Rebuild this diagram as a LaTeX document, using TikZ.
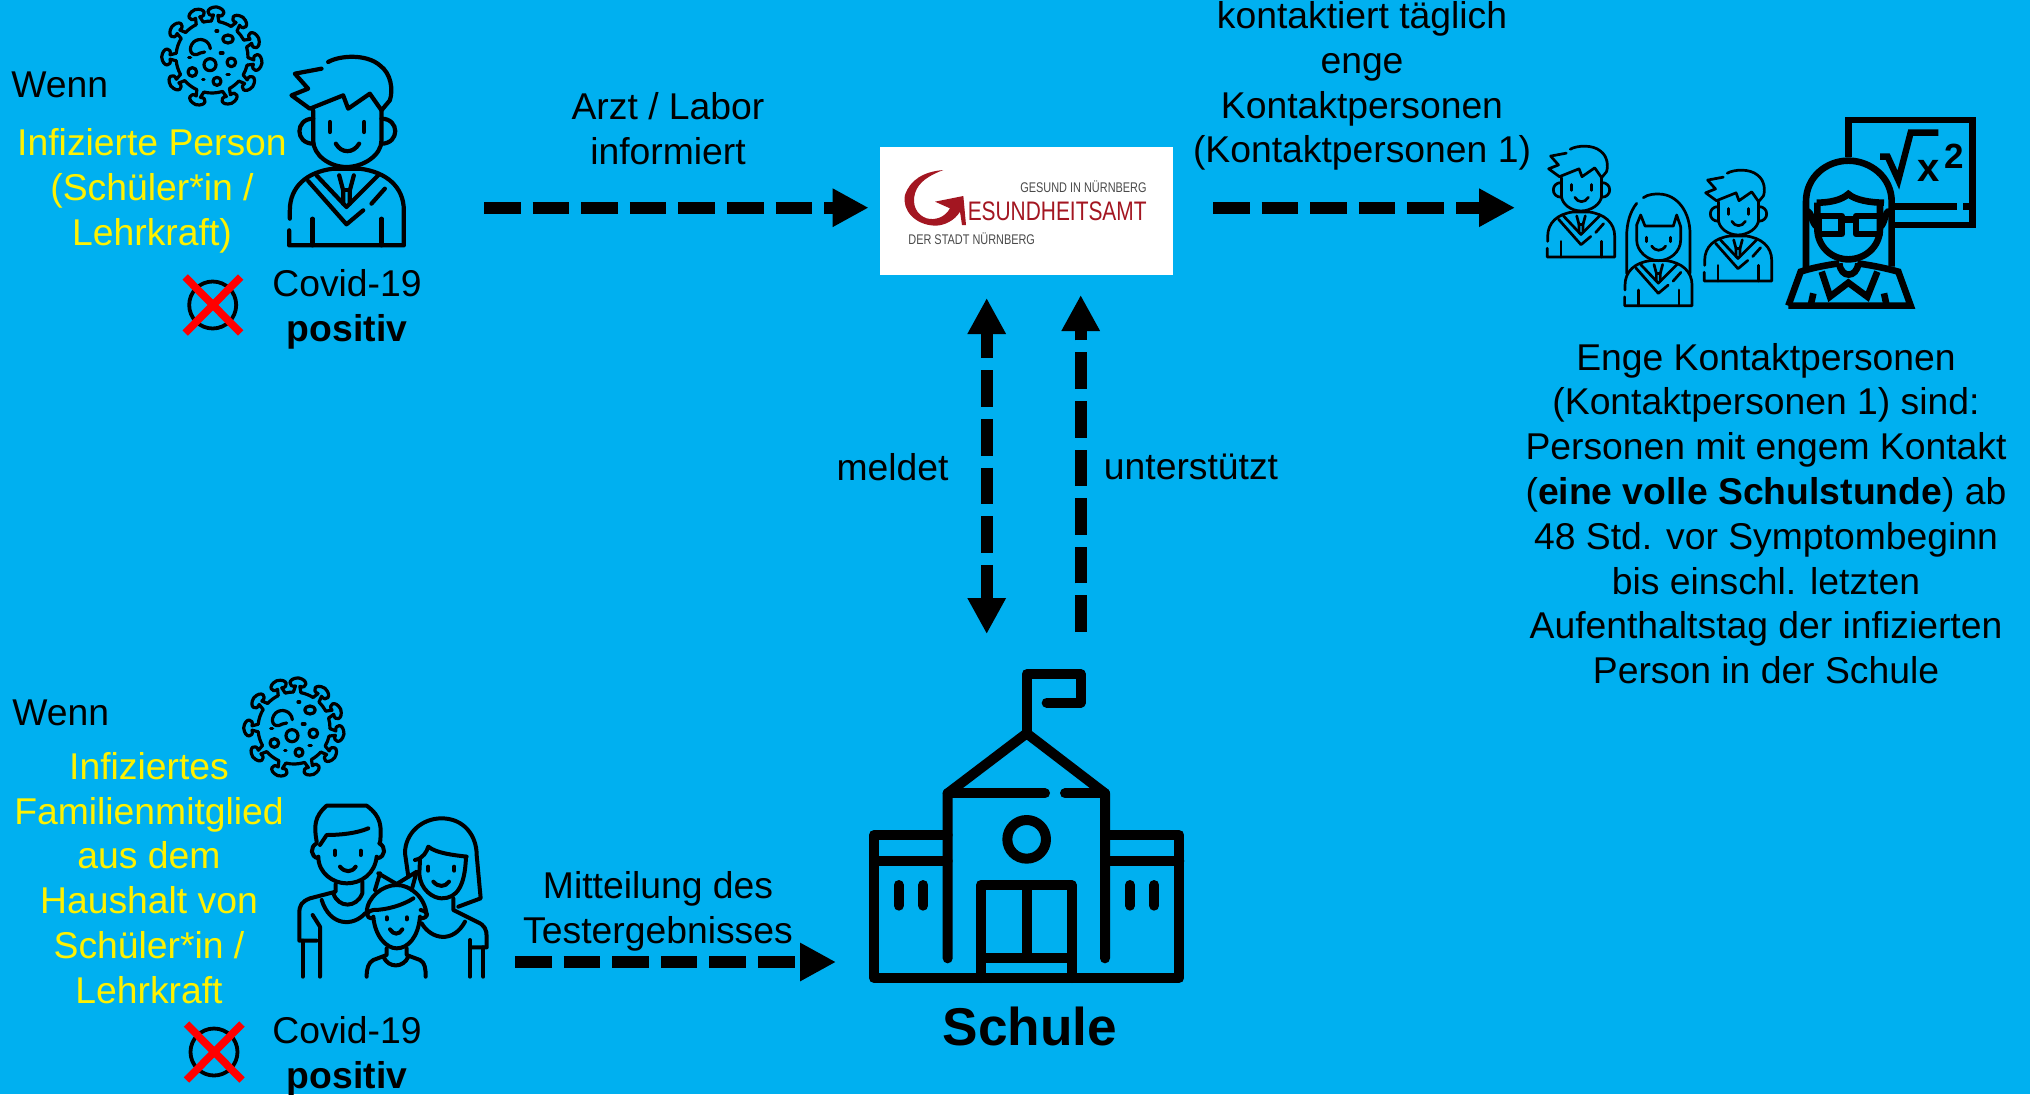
\documentclass[tikz,border=0pt]{standalone}
\usepackage{fontspec}
\setmainfont{Liberation Sans}
\newfontfamily\logofont[FakeStretch=0.78]{Liberation Sans}
\usetikzlibrary{arrows.meta}
\definecolor{bgblue}{HTML}{00B0F0}
\definecolor{logored}{HTML}{A31621}
\definecolor{logogray}{HTML}{4A4A4A}
\tikzset{
  label/.style={inner sep=0pt,align=center,font=\fontsize{18.65}{22.4}\selectfont,text=black},
  yellowlabel/.style={label,text=yellow},
  flow/.style={line width=6pt,dash pattern=on 18.3pt off 6pt,-{Triangle[length=18pt,width=18pt]}},
  icon/.style={line cap=round,line join=round,draw=black},
}
\newcommand{\virusicon}[2]{%
  \begin{scope}[shift={(#1,#2)},scale=1/3,icon,line width=1.6pt]
    \foreach \a/\b in {-143/-110,-110/-85,-85/-52,-52/-22,-22/7,7/36,36/67,67/109,109/145,145/180,180/217}{
      \draw ({\a+6}:108) arc[start angle={\a+6},end angle={\b-6},radius=108];
      \draw ({\b-6}:108) -- ({\b-3}:126) .. controls ({\b-13}:122) and ({\b-13}:151) .. ({\b}:151)
            .. controls ({\b+13}:151) and ({\b+13}:122) .. ({\b+3}:126) -- ({\b+6}:108);
    }
    \draw (-5,-25) .. controls (-8,-52) and (-38,-60) .. (-55,-45) .. controls (-75,-25) and (-62,5) .. (-35,-12) -- (-22,-15);
    \draw (48,-54) ellipse [x radius=16,y radius=12];
    \draw (-6,23) circle [radius=18];
    \draw (58,16) circle [radius=13];
    \draw (-59,45) circle [radius=13];
    \draw (15,73) circle [radius=12];
    \draw (12,-78)--(17,-78); \draw (25,-12)--(33,-12);
    \draw (-70,2)--(-64,2); \draw (-28,68)--(-24,68); \draw (45,53)--(52,53);
  \end{scope}}
\newcommand{\bodyshape}{%
  \draw (-170,-85)--(-170,-110) .. controls (-170,-180) and (-120,-225) .. (-40,-235) -- (40,-235)
        .. controls (120,-225) and (172,-180) .. (172,-110) -- (172,-5) -- (-172,-5) -- (-172,-50);
  \draw (-102,-85)--(-102,-5); \draw (105,-85)--(105,-5);
  \draw (-115,-198)--(0,-68)--(50,-110); \draw (75,-130)--(115,-175);
  \draw (-90,-215)--(0,-120)--(95,-215);
  \draw (-22,-215)--(-10,-170)--(-10,-130); \draw (22,-215)--(10,-170)--(10,-130); \draw (-10,-170)--(10,-170);
}
\newcommand{\studenticon}[4]{%
  \begin{scope}[shift={(#1,#2)},scale=#3/3,icon,line width=#4]
    \draw (-55,-555) .. controls (-20,-575) and (60,-580) .. (100,-545)
          .. controls (135,-520) and (140,-470) .. (130,-440) -- (105,-410) -- (70,-460) -- (5,-415)
          -- (-10,-455) -- (-110,-415) -- (-165,-455) -- (-115,-475) -- (-155,-520) -- (-75,-535);
    \draw (-100,-410)--(-100,-320) .. controls (-100,-275) and (-50,-240) .. (0,-240)
          .. controls (50,-240) and (105,-275) .. (105,-320) -- (105,-410);
    \draw (-100,-385) .. controls (-155,-385) and (-155,-310) .. (-100,-310);
    \draw (105,-385) .. controls (160,-385) and (160,-310) .. (105,-310);
    \draw (-50,-375)--(-50,-345); \draw (53,-375)--(53,-345);
    \draw (-32,-310) .. controls (-15,-280) and (20,-280) .. (38,-310);
    \bodyshape
  \end{scope}}
\newcommand{\crossmark}[2]{%
  \draw[line width=1.9pt] (#1,#2) circle [radius=23.5];
  \draw[red,line width=3.8pt] ({#1-27.5},{#2-28}) -- ({#1+28},{#2+28});
  \draw[red,line width=3.8pt] ({#1+28},{#2-28}) -- ({#1-27.5},{#2+28});}
\begin{document}
\begin{tikzpicture}[x=0.5pt,y=-0.5pt]
\fill[bgblue] (0,0) rectangle (2030,1094);
\useasboundingbox (0,0) rectangle (2030,1094);

% ---- upper left
\virusicon{212}{57}
\studenticon{346.5}{247}{1}{2.1pt}
\crossmark{212.7}{305}
\node[label,anchor=base west] (wenna) at (11,97) {Wenn};
\node[yellowlabel] (infa) at (152,191) {Infizierte Person\\(Schüler*in /\\Lehrkraft)};
\node[label] (cova) at (347,309) {Covid-19\\\textbf{positiv}};

% ---- lower left
\virusicon{294}{728}
\node[label,anchor=base west] (wennb) at (12,725) {Wenn};
\node[yellowlabel] (infb) at (149,878) {Infiziertes\\Familienmitglied\\aus dem\\Haushalt von\\Schüler*in /\\Lehrkraft};
\crossmark{214}{1052}
\node[label] (covb) at (347,1056) {Covid-19\\\textbf{positiv}};
\begin{scope}[shift={(170,660)},scale=1/3,icon,line width=2pt]
  % father
  \draw (440,545) .. controls (432,500) and (432,470) .. (470,437) -- (590,437) .. controls (635,470) and (635,500) .. (630,550);
  \draw (450,555)--(470,525) .. controls (510,525) and (560,520) .. (595,505);
  \draw (445,590) .. controls (445,640) and (490,670) .. (530,670) .. controls (575,670) and (615,640) .. (620,590);
  \draw (440,550) .. controls (420,560) and (420,590) .. (445,595);
  \draw (628,550) .. controls (648,560) and (648,590) .. (622,595);
  \draw (495,572)--(495,585); \draw (572,572)--(572,585);
  \draw (510,620) .. controls (525,638) and (545,638) .. (557,620);
  \draw (497,672)--(497,695)--(420,715) .. controls (395,725) and (388,735) .. (388,760) -- (388,842)--(440,842);
  \draw (455,720) .. controls (480,800) and (550,800) .. (585,760);
  \draw (490,700) .. controls (505,745) and (560,745) .. (577,700) -- (577,665);
  \draw (428,765)--(450,800)--(450,950);
  \draw (398,842)--(398,950);
  % mother
  \draw (715,650) -- (705,580) .. controls (705,520) and (755,475) .. (815,475) .. controls (880,475) and (920,525) .. (920,585) -- (932,715) -- (865,740);
  \draw (735,600) .. controls (760,595) and (770,575) .. (775,560) .. controls (800,580) and (850,585) .. (890,590);
  \draw (750,600)--(748,640) .. controls (750,690) and (790,715) .. (815,715) .. controls (860,715) and (885,680) .. (888,590);
  \draw (775,620)--(775,632); \draw (853,620)--(853,632);
  \draw (790,665) .. controls (805,682) and (825,682) .. (837,665);
  \draw (850,715)--(850,750)--(920,785) .. controls (945,795) and (950,810) .. (950,830) -- (950,862)--(905,862);
  \draw (755,790) .. controls (785,840) and (850,850) .. (885,785);
  \draw (900,840)--(900,950); \draw (940,862)--(940,950);
  % child
  \draw (630,640)--(615,690); \draw (625,640)--(680,672)--(740,635)--(725,690);
  \draw (590,760) .. controls (590,710) and (640,675) .. (680,675) .. controls (720,675) and (765,710) .. (770,765);
  \draw (610,750) .. controls (650,750) and (700,735) .. (730,715);
  \draw (610,770) .. controls (615,830) and (650,865) .. (680,865) .. controls (715,865) and (745,830) .. (750,770);
  \draw (610,750) .. controls (585,755) and (585,775) .. (610,775);
  \draw (752,750) .. controls (778,755) and (778,775) .. (750,775);
  \draw (650,772)--(650,778); \draw (710,772)--(710,778);
  \draw (660,808) .. controls (670,825) and (688,825) .. (697,808);
  \draw (650,865)--(650,885)--(610,900) .. controls (595,908) and (590,925) .. (590,950);
  \draw (710,865)--(710,885)--(750,900) .. controls (765,908) and (767,925) .. (767,950);
  \draw (640,890) .. controls (655,925) and (700,925) .. (715,890);
\end{scope}

% ---- Gesundheitsamt logo
\node[fill=white,inner sep=0pt,minimum width=146.5pt,minimum height=64pt] (amt) at (1026.5,211) {};
\begin{scope}[shift={(860,130)},scale=1/3]
  \fill[logored] (250,120) .. controls (190,125) and (150,150) .. (135,195)
     .. controls (125,240) and (165,285) .. (225,287)
     .. controls (255,287) and (285,270) .. (300,245)
     -- (306,285) -- (318,285) -- (310,198)
     -- (225,215) -- (270,235)
     .. controls (255,262) and (225,272) .. (200,265)
     .. controls (170,255) and (155,225) .. (165,190)
     .. controls (175,155) and (210,135) .. (250,120) -- cycle;
\end{scope}
\node[inner sep=0pt,anchor=base east,text=logogray,font=\logofont\fontsize{7}{8}\selectfont] (gesund) at (1147,192) {GESUND IN NÜRNBERG};
\node[inner sep=0pt,anchor=base east,text=logored,font=\logofont\fontsize{13.4}{14}\selectfont] (gamt) at (1147,220) {ESUNDHEITSAMT};
\node[inner sep=0pt,anchor=base west,text=logogray,font=\logofont\fontsize{7}{8}\selectfont] (stadt) at (908,244) {DER STADT NÜRNBERG};

% ---- contacts
\studenticon{1581}{258}{0.588}{1.35pt}
\studenticon{1738}{282}{0.588}{1.35pt}
\begin{scope}[shift={(1520,100)},scale=1/3,icon,line width=1.35pt]
  \begin{scope}[shift={(415,620)}]
    \draw (-45,-327) .. controls (-30,-338) and (-10,-338) .. (0,-338) .. controls (60,-338) and (95,-280) .. (95,-220) -- (95,-100);
    \draw (-65,-310) .. controls (-85,-285) and (-95,-250) .. (-95,-210) -- (-95,-100);
    \draw (-65,-245)--(-53,-275)--(-40,-242)--(45,-242)--(55,-275)--(67,-240);
    \draw (-65,-245)--(-65,-200) .. controls (-65,-165) and (-30,-138) .. (0,-138) .. controls (35,-138) and (67,-165) .. (67,-200) -- (67,-240);
    \draw (-36,-208)--(-36,-195); \draw (36,-208)--(36,-195);
    \draw (-20,-182) .. controls (-8,-165) and (10,-165) .. (22,-182);
    \begin{scope}[scale=0.588]\bodyshape\end{scope}
  \end{scope}
  \begin{scope}[line width=3.3pt,line cap=butt,line join=miter]
    \draw (985,170)--(985,60)--(1358,60)--(1358,375)--(1110,375);
    \draw (1115,320)--(1310,320); \draw (1330,320)--(1358,320);
    \draw[line width=3.2pt] (1080,170)--(1103,170)--(1135,240)--(1172,98)--(1255,98);
  \end{scope}
  \node[inner sep=0pt,font=\bfseries\fontsize{20}{20}\selectfont] (xvar) at (1227,214) {x};
  \node[inner sep=0pt,font=\bfseries\fontsize{17.5}{18}\selectfont] (expo) at (1302,168) {2};
  \begin{scope}[line width=3.3pt,line cap=butt,line join=miter]
    \fill[bgblue] (855,510)--(855,305) .. controls (855,230) and (920,180) .. (985,180) .. controls (1050,180) and (1115,230) .. (1115,305) -- (1115,510) -- cycle;
    \draw (858,510)--(858,305) .. controls (858,230) and (920,182) .. (985,182) .. controls (1050,182) and (1115,230) .. (1115,305) -- (1115,500);
    \draw (890,308) .. controls (930,308) and (965,300) .. (985,282) .. controls (1005,300) and (1050,308) .. (1092,308);
    \draw (892,308)--(892,385) .. controls (892,440) and (935,478) .. (985,478) .. controls (1035,478) and (1080,440) .. (1080,385) -- (1080,308);
    \draw (860,335) .. controls (875,330) and (875,375) .. (892,380);
    \draw (1108,335) .. controls (1095,330) and (1095,375) .. (1080,380);
    \draw[line join=round] (895,348) rectangle (965,402);
    \draw[line join=round] (1008,348) rectangle (1080,402);
    \draw (965,358)--(1008,358);
    \draw (958,490) .. controls (962,535) and (1010,535) .. (1015,490);
    \draw (805,617)--(1172,617)--(1135,515) .. controls (1100,505) and (1050,495) .. (1012,490);
    \draw (805,617)--(842,515) .. controls (870,505) and (920,495) .. (958,490);
    \draw (905,515)--(930,590)--(985,548)--(1042,590)--(1072,515);
    \draw (880,580)--(872,617); \draw (1092,580)--(1100,617);
  \end{scope}
\end{scope}

% ---- school
\begin{scope}[shift={(850,650)},scale=1/3,icon,line width=5pt]
  \draw (293,555)--(72,555)--(72,984)--(988,984)--(988,555)--(765,555);
  \draw (72,633)--(293,633); \draw (765,633)--(988,633);
  \draw (293,925)--(293,430)--(530,250)--(765,430)--(765,925);
  \draw (293,430)--(585,430); \draw (645,430)--(765,430);
  \draw (530,250)--(530,72)--(692,72)--(692,158)--(590,158);
  \draw (530,568) circle [radius=58];
  \draw (393,984)--(393,705)--(665,705)--(665,984);
  \draw (393,923)--(665,923); \draw (530,705)--(530,923);
  \draw (146,705)--(146,767); \draw (220,705)--(220,767);
  \draw (840,705)--(840,767); \draw (913,705)--(913,767);
\end{scope}
\node[inner sep=0pt,font=\bfseries\fontsize{26.6}{30}\selectfont] (schule) at (1030,1026) {Schule};

% ---- labels
\node[label] (arzt) at (668,129) {Arzt / Labor\\informiert};
\node[label] (kont) at (1362,86) {kontaktiert täglich\\enge\\Kontaktpersonen\\(Kontaktpersonen 1)};
\node[label] (enge) at (1766,513.5) {Enge Kontaktpersonen\\(Kontaktpersonen 1) sind:\\Personen mit engem Kontakt\\(\textbf{eine volle Schulstunde}) ab\\48 Std. vor Symptombeginn\\bis einschl. letzten\\Aufenthaltstag der infizierten\\Person in der Schule};
\node[label] (meldet) at (892.5,467) {meldet};
\node[label] (unter) at (1191,467) {unterstützt};
\node[label] (mitt) at (658,911) {Mitteilung des\\Testergebnisses};

% ---- connector ends
\coordinate (p1s) at (484,207.7);
\coordinate (p2s) at (1213,207.7);
\coordinate (p2e) at (1515,207.7);
\coordinate (v1t) at (986.7,298);
\coordinate (v1b) at (986.7,634);
\coordinate (v2t) at (1080.7,295);
\coordinate (v2b) at (1080.7,632);
\coordinate (p3s) at (515,962);
\coordinate (p3e) at (836,962);
\draw[flow,shorten >=5.5pt] (p1s) -- (p1s -| amt.west);
\draw[flow] (p2s) -- (p2e);
\draw[flow,{Triangle[length=18pt,width=18pt]}-{Triangle[length=18pt,width=18pt]},dash pattern=on 18.3pt off 6pt,dash phase=5pt] (v1t) -- (v1b);
\draw[flow] (v2b) -- (v2t);
\draw[flow] (p3s) -- (p3e);
\end{tikzpicture}
\end{document}
